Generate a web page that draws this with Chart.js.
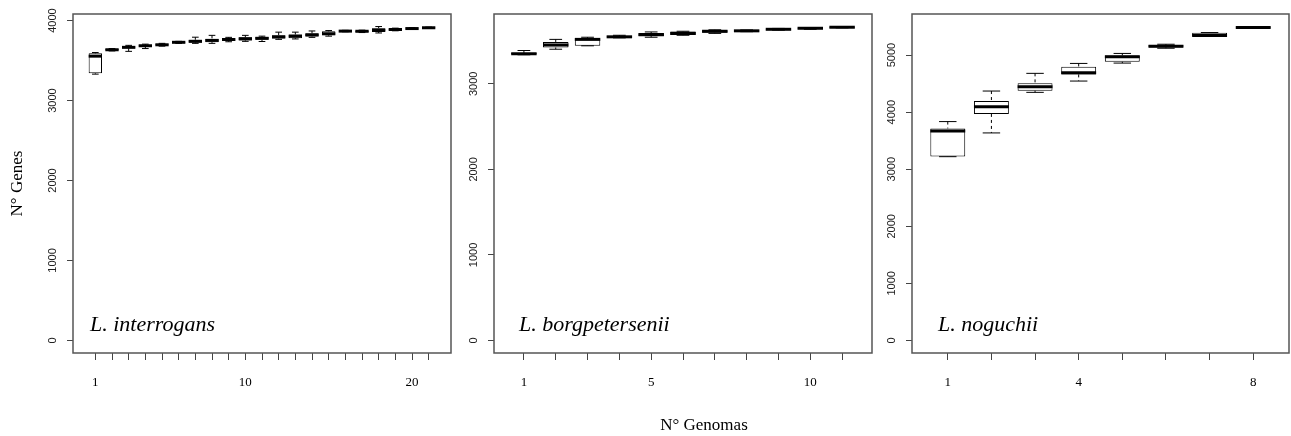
<!DOCTYPE html>
<html>
<head>
<meta charset="utf-8">
<script src="https://cdn.jsdelivr.net/npm/chart.js@4.4.1/dist/chart.umd.min.js"></script>
<style>
  body { margin: 0; background: #fff; }
  #wrap { position: relative; width: 1291px; height: 436px; overflow: hidden; font-family: "Liberation Serif", serif; }
  canvas { position: absolute; top: 0; }
  .sp { position: absolute; font-style: italic; font-size: 22px; line-height: 22px; white-space: nowrap; color: #000; }
  #xtitle { position: absolute; left: 604px; width: 200px; text-align: center; top: 416px; font-size: 17px; line-height: 17px; color: #000; }
</style>
</head>
<body>
<div id="wrap">
  <canvas id="chart1" width="455" height="436" style="left:0px"></canvas>
  <canvas id="chart2" width="420" height="436" style="left:455px"></canvas>
  <canvas id="chart3" width="416" height="436" style="left:875px"></canvas>
  <div class="sp" style="left:90px;top:313px">L. interrogans</div>
  <div class="sp" style="left:519px;top:313px">L. borgpetersenii</div>
  <div class="sp" style="left:938px;top:313px">L. noguchii</div>
  <div id="xtitle">N° Genomas</div>
</div>
<script>
// L. interrogans (21 genomas)
const interMin = [3330, 3620, 3615, 3650, 3680, 3715, 3715, 3715, 3735, 3740, 3738, 3765, 3770, 3790, 3805, 3860, 3850, 3845, 3872, 3892, 3902];
const interQ1  = [3340, 3628, 3655, 3672, 3690, 3720, 3725, 3730, 3745, 3752, 3760, 3775, 3780, 3800, 3815, 3865, 3858, 3858, 3878, 3896, 3905];
const interMed = [3555, 3635, 3665, 3685, 3697, 3728, 3740, 3752, 3763, 3772, 3778, 3795, 3805, 3820, 3835, 3868, 3866, 3880, 3888, 3900, 3910];
const interQ3  = [3590, 3645, 3680, 3695, 3705, 3735, 3760, 3770, 3780, 3790, 3795, 3815, 3825, 3840, 3865, 3872, 3872, 3905, 3898, 3905, 3915];
const interMax = [3600, 3650, 3690, 3705, 3715, 3740, 3792, 3815, 3790, 3815, 3805, 3855, 3855, 3870, 3875, 3878, 3880, 3925, 3905, 3910, 3918];
const interLabels = [1, 10, 20];

// L. borgpetersenii (11 genomas)
const borgMin = [3340, 3405, 3445, 3538, 3545, 3568, 3590, 3610, 3628, 3638, 3655];
const borgQ1  = [3345, 3425, 3447, 3542, 3558, 3572, 3598, 3613, 3632, 3645, 3657];
const borgMed = [3352, 3455, 3520, 3550, 3575, 3590, 3615, 3620, 3638, 3650, 3662];
const borgQ3  = [3362, 3490, 3533, 3558, 3595, 3612, 3628, 3627, 3644, 3656, 3667];
const borgMax = [3390, 3520, 3545, 3568, 3607, 3615, 3632, 3630, 3648, 3658, 3670];
const borgLabels = [1, 5, 10];

// L. noguchii (8 genomas)
const noguMin = [3220, 3636, 4347, 4545, 4860, 5120, 5330, 5475];
const noguQ1  = [3223, 3969, 4377, 4662, 4883, 5135, 5335, 5478];
const noguMed = [3670, 4097, 4447, 4691, 4971, 5155, 5345, 5485];
const noguQ3  = [3715, 4196, 4505, 4796, 4994, 5175, 5390, 5495];
const noguMax = [3835, 4370, 4680, 4854, 5029, 5190, 5395, 5500];
const noguLabels = [1, 4, 8];

const yStep = 1000;

Chart.defaults.font.family = '"Liberation Serif", serif';
Chart.defaults.color = '#000';

// marco del gráfico como en R
const framePlugin = {
    id: 'frame',
    afterDraw(chart) {
        const { ctx, chartArea: a } = chart;
        ctx.save();
        ctx.strokeStyle = '#555';
        ctx.lineWidth = 1.5;
        ctx.strokeRect(a.left, a.top, a.right - a.left, a.bottom - a.top);
        ctx.restore();
    }
};

function unitPx(chart, w) {
    const xs = chart.scales.x;
    return Math.abs(xs.getPixelForValue(w) - xs.getPixelForValue(0));
}

function boxDatasets(mins, q1s, meds, q3s, maxs) {
    const idx = meds.map((_, i) => i + 1);
    const whisk = [];
    idx.forEach((x, i) => {
        whisk.push({ x, y: maxs[i] }, { x, y: q3s[i] }, { x, y: null },
                   { x, y: q1s[i] }, { x, y: mins[i] }, { x, y: null });
    });
    const caps = [];
    idx.forEach((x, i) => caps.push({ x, y: maxs[i] }, { x, y: mins[i] }));
    return [
        {
            type: 'scatter',
            data: idx.map((x, i) => ({ x, y: meds[i] })),
            pointStyle: 'line',
            pointBorderColor: '#000',
            pointBorderWidth: 3,
            pointRadius: c => unitPx(c.chart, 0.4),
            order: 0
        },
        {
            type: 'scatter',
            data: caps,
            pointStyle: 'line',
            pointBorderColor: '#000',
            pointBorderWidth: 1,
            pointRadius: c => unitPx(c.chart, 0.2),
            order: 1
        },
        {
            type: 'bar',
            data: idx.map((x, i) => ({ x, y: [q1s[i], q3s[i]] })),
            backgroundColor: '#fff',
            borderColor: '#000',
            borderWidth: 1,
            borderSkipped: false,
            barPercentage: 0.8,
            categoryPercentage: 1,
            order: 2
        },
        {
            type: 'line',
            data: whisk,
            borderColor: '#000',
            borderWidth: 1,
            borderDash: [3, 3],
            pointRadius: 0,
            spanGaps: false,
            order: 3
        }
    ];
}

function drawChart(id, stats, labels, axisW, padRight, showTitle) {
    const [mins, q1s, meds, q3s, maxs] = stats;
    const n = meds.length;
    const top = Math.max(...maxs);
    const yMin = -0.04 * top;
    const yMax = top * 1.04;
    const yTicks = [];
    for (let v = 0; v <= yMax; v += yStep) yTicks.push(v);
    const xTicks = meds.map((_, i) => i + 1);

    new Chart(document.getElementById(id).getContext('2d'), {
        type: 'bar',
        data: { datasets: boxDatasets(mins, q1s, meds, q3s, maxs) },
        options: {
            responsive: false,
            animation: false,
            events: [],
            layout: { padding: { top: 14, right: padRight, left: 0, bottom: 0 } },
            plugins: { legend: { display: false }, tooltip: { enabled: false } },
            scales: {
                x: {
                    type: 'linear',
                    offset: false,
                    min: 0.5 - 0.04 * n,
                    max: n + 0.5 + 0.04 * n,
                    afterBuildTicks: s => { s.ticks = xTicks.map(v => ({ value: v })); },
                    afterFit: s => { s.height = 83; },
                    grid: { offset: false, drawOnChartArea: false, tickLength: 7, tickColor: '#444' },
                    border: { display: false },
                    ticks: {
                        autoSkip: false,
                        maxRotation: 0,
                        padding: 15,
                        font: { size: 13 },
                        color: '#000',
                        callback: v => labels.includes(v) ? String(v) : ''
                    }
                },
                y: {
                    type: 'linear',
                    min: yMin,
                    max: yMax,
                    afterBuildTicks: s => { s.ticks = yTicks.map(v => ({ value: v })); },
                    afterFit: s => { s.width = axisW; },
                    grid: { drawOnChartArea: false, tickLength: 6, tickColor: '#444' },
                    border: { display: false },
                    title: {
                        display: showTitle,
                        text: 'N° Genes',
                        font: { size: 17 },
                        color: '#000',
                        padding: { top: 7, bottom: 0 }
                    },
                    ticks: {
                        minRotation: 90,
                        maxRotation: 90,
                        crossAlign: 'center',
                        padding: 2,
                        color: '#222',
                        font: { family: '"Liberation Sans", sans-serif', size: 11 },
                        callback: v => String(v)
                    }
                }
            }
        },
        plugins: [framePlugin]
    });
}

// gráficos
drawChart('chart1', [interMin, interQ1, interMed, interQ3, interMax], interLabels, 73, 4, true);
drawChart('chart2', [borgMin, borgQ1, borgMed, borgQ3, borgMax], borgLabels, 39, 3, false);
drawChart('chart3', [noguMin, noguQ1, noguMed, noguQ3, noguMax], noguLabels, 37, 2, false);
</script>
</body>
</html>
